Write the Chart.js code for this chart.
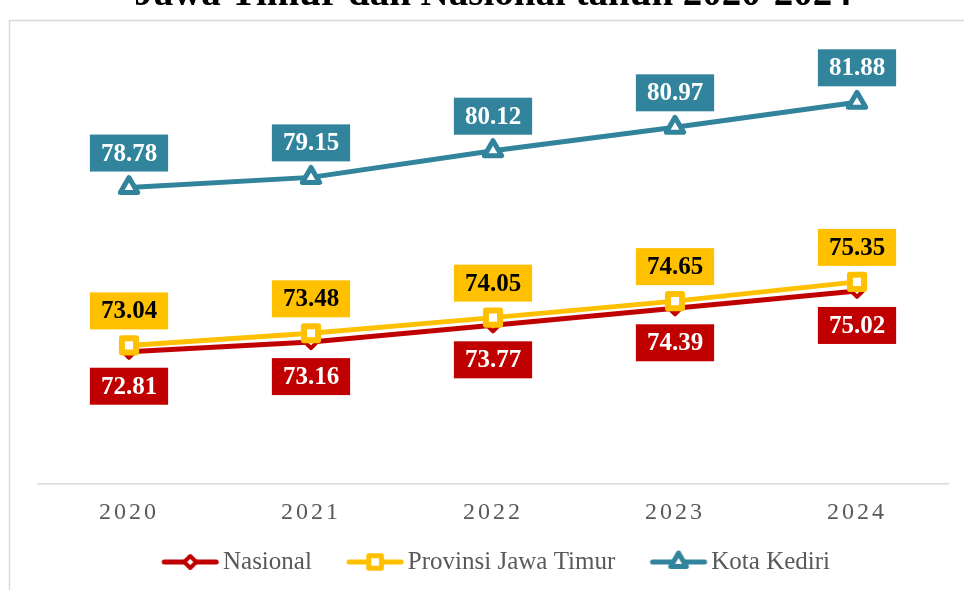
<!DOCTYPE html>
<html>
<head>
<meta charset="utf-8">
<title>IPM Kota Kediri</title>
<script src="https://cdn.jsdelivr.net/npm/chart.js@4.4.1/dist/chart.umd.min.js"></script>
<style>
  html, body { margin: 0; padding: 0; background: #fff; overflow: hidden; width: 964px; height: 590px; }
  #wrap { position: absolute; left: 0; top: -30px; width: 964px; height: 620px; }
</style>
</head>
<body>
<div id="wrap"><canvas id="myChart"></canvas></div>
<script>
// data
const years = ['2020', '2021', '2022', '2023', '2024'];
const nasional = [72.81, 73.16, 73.77, 74.39, 75.02];
const jatim = [73.04, 73.48, 74.05, 74.65, 75.35];
const kediri = [78.78, 79.15, 80.12, 80.97, 81.88];
const seriesNames = ['Nasional', 'Provinsi Jawa Timur', 'Kota Kediri'];
const titleText = 'Jawa Timur dan Nasional tahun 2020-2024';

const red = '#C00000';
const yellow = '#FFC000';
const teal = '#31849B';
const grey = '#595959';
const serif = "'Liberation Serif', 'Times New Roman', serif";

// label placement per dataset (below / above the point) and text colour
const labelBelow = [true, false, false];
const labelText = ['#fff', '#000', '#fff'];

// legend pictures: a line with the marker in the middle.
// the legend centres the image at boxWidth/2, so the line is shifted right inside it
function legendIcon(color, style, radius, bw) {
  const c = document.createElement('canvas');
  c.width = 76;
  c.height = 26;
  const g = c.getContext('2d');
  g.strokeStyle = color;
  g.lineWidth = 5;
  g.lineCap = 'round';
  g.lineJoin = 'round';
  g.beginPath();
  g.moveTo(19, 13);
  g.lineTo(71, 13);
  g.stroke();
  g.fillStyle = '#fff';
  g.lineWidth = bw;
  Chart.helpers.drawPoint(g, { pointStyle: style, radius: radius, borderWidth: bw, rotation: 0 }, 45, 13);
  return c;
}

const icons = [
  legendIcon(red, 'rectRot', 6, 4),
  legendIcon(yellow, 'rect', 9, 5),
  legendIcon(teal, 'triangle', 9, 5)
];

const frame = {
  id: 'frame',
  afterLayout(chart) {
    // let the spaced tick labels run below the axis box without being clipped
    chart.scales.x.bottom += 24;
  },
  beforeDraw(chart) {
    const ctx = chart.ctx;
    ctx.save();
    ctx.strokeStyle = '#D9D9D9';
    ctx.lineWidth = 1.5;
    ctx.strokeRect(9.5, 50.5, 1500, 1500);
    ctx.restore();
  },
  beforeDatasetsDraw(chart) {
    chart.ctx.lineJoin = 'round';
  },
  afterDatasetsDraw(chart) {
    const ctx = chart.ctx;
    ctx.lineJoin = 'miter';
    chart.data.datasets.forEach((ds, i) => {
      const meta = chart.getDatasetMeta(i);
      meta.data.forEach((pt, j) => {
        const txt = ds.data[j].toFixed(2);
        ctx.save();
        ctx.font = 'bold 25px ' + serif;
        const w = ctx.measureText(txt).width + 22;
        const h = 37;
        const y = labelBelow[i] ? pt.y + 16 : pt.y - 16 - h;
        ctx.fillStyle = ds.borderColor;
        ctx.fillRect(pt.x - w / 2, y, w, h);
        ctx.fillStyle = labelText[i];
        ctx.textAlign = 'center';
        ctx.textBaseline = 'middle';
        ctx.fillText(txt, pt.x, y + h / 2 + 1);
        ctx.restore();
      });
    });
    // tick labels are drawn after this (ticks.z = 1), spaced out like the original
    ctx.letterSpacing = '3px';
  },
  afterDraw(chart) {
    chart.ctx.letterSpacing = '0px';
  }
};

let myChart = document.getElementById('myChart').getContext('2d');

let ipmChart = new Chart(myChart, {
  type: 'line',
  data: {
    labels: years,
    datasets: [{
      label: seriesNames[0],
      data: nasional,
      borderColor: red,
      backgroundColor: '#fff',
      borderWidth: 5,
      pointStyle: 'rectRot',
      pointRadius: 6,
      pointBorderWidth: 4,
      pointBackgroundColor: '#fff',
      pointBorderColor: red,
      order: 1
    }, {
      label: seriesNames[1],
      data: jatim,
      borderColor: yellow,
      backgroundColor: '#fff',
      borderWidth: 5,
      pointStyle: 'rect',
      pointRadius: 10,
      pointBorderWidth: 6,
      pointBackgroundColor: '#fff',
      pointBorderColor: yellow,
      order: 0
    }, {
      label: seriesNames[2],
      data: kediri,
      borderColor: teal,
      backgroundColor: '#fff',
      borderWidth: 5,
      pointStyle: 'triangle',
      pointRadius: 10,
      pointBorderWidth: 5,
      pointBackgroundColor: '#fff',
      pointBorderColor: teal,
      order: 2
    }]
  },
  options: {
    responsive: true,
    maintainAspectRatio: false,
    animation: false,
    events: [],
    elements: {
      line: { tension: 0, borderJoinStyle: 'round', borderCapStyle: 'round' }
    },
    layout: { padding: { left: 38, right: 16, top: 0, bottom: 5.5 } },
    scales: {
      x: {
        offset: true,
        grid: { display: false, drawTicks: false },
        border: { display: true, color: '#D9D9D9', width: 1.5 },
        ticks: { color: grey, font: { family: serif, size: 24 }, padding: 14, z: 1 },
        afterFit: function (scale) { scale.height = 36.5; }
      },
      y: { display: false, min: 68, max: 84 }
    },
    plugins: {
      tooltip: { enabled: false },
      title: {
        display: true,
        text: titleText,
        color: '#000',
        font: { family: serif, size: 39, weight: 'bold' },
        padding: { top: 2, bottom: 25.2 }
      },
      legend: {
        position: 'bottom',
        labels: {
          usePointStyle: true,
          pointStyleWidth: 54.5,
          padding: 29,
          color: grey,
          font: { family: serif, size: 25 },
          generateLabels: function (chart) {
            return chart.data.datasets.map((ds, i) => ({
              text: ds.label,
              pointStyle: icons[i],
              fillStyle: '#fff',
              strokeStyle: ds.borderColor,
              lineWidth: 0,
              fontColor: grey,
              hidden: false,
              datasetIndex: i
            }));
          }
        }
      }
    }
  },
  plugins: [frame]
});
</script>
</body>
</html>
